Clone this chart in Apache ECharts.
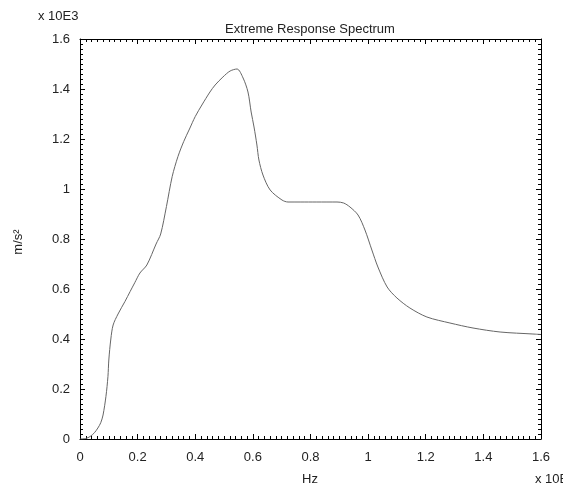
<!DOCTYPE html>
<html>
<head>
<meta charset="utf-8">
<script src="https://cdn.jsdelivr.net/npm/echarts@6/dist/echarts.min.js"></script>
<style>html,body{margin:0;padding:0;background:#fff}#c{width:563px;height:488px}</style>
</head>
<body>
<div id="c"></div>
<script>
var freq = [0, 0.02, 0.035, 0.05, 0.062, 0.072, 0.08, 0.09, 0.097, 0.10, 0.107, 0.115, 0.132, 0.156, 0.174, 0.19, 0.208, 0.232, 0.264, 0.28, 0.30, 0.32, 0.34, 0.36, 0.38, 0.40, 0.423, 0.451, 0.469, 0.496, 0.521, 0.545, 0.566, 0.583, 0.594, 0.604, 0.614, 0.621, 0.635, 0.660, 0.701, 0.722, 0.764, 0.822, 0.892, 0.915, 0.937, 0.965, 0.989, 1.013, 1.034, 1.066, 1.10, 1.145, 1.204, 1.284, 1.364, 1.458, 1.572, 1.6];
var accel = [0, 0.002, 0.01, 0.025, 0.044, 0.065, 0.096, 0.17, 0.25, 0.316, 0.40, 0.456, 0.50, 0.55, 0.59, 0.625, 0.664, 0.696, 0.78, 0.82, 0.93, 1.05, 1.13, 1.19, 1.24, 1.29, 1.336, 1.388, 1.416, 1.448, 1.472, 1.48, 1.444, 1.388, 1.308, 1.248, 1.176, 1.116, 1.056, 0.996, 0.956, 0.948, 0.948, 0.948, 0.948, 0.944, 0.928, 0.896, 0.836, 0.756, 0.688, 0.608, 0.564, 0.524, 0.488, 0.464, 0.444, 0.428, 0.42, 0.418];
var xTicks = ['0', '0.2', '0.4', '0.6', '0.8', '1', '1.2', '1.4', '1.6'];
var yTicks = ['0', '0.2', '0.4', '0.6', '0.8', '1', '1.2', '1.4', '1.6'];

var pts = freq.map(function (f, i) { return [f, accel[i]]; });
var FONT = '"Liberation Sans Narrow", "Liberation Sans", Arial, sans-serif';
var chart = echarts.init(document.getElementById('c'), null, {renderer: 'canvas'});

function axisCommon(showLabel, pos, labels, margin) {
  return {
    type: 'value', min: 0, max: 1.6, interval: 0.2, position: pos,
    axisLine: {show: true, onZero: false, lineStyle: {color: '#000', width: 1}},
    axisTick: {show: true, inside: true, length: 5, lineStyle: {color: '#000'}},
    minorTick: {show: true, splitNumber: 10, length: 3, lineStyle: {color: '#000'}},
    splitLine: {show: false},
    axisLabel: {
      show: showLabel, color: '#222', fontFamily: FONT, fontSize: 13, margin: margin,
      formatter: function (v) { var i = Math.round(v / 0.2); return labels[i]; }
    }
  };
}
var xb = axisCommon(true, 'bottom', xTicks, 12);
var xt = axisCommon(false, 'top', xTicks, 8);
var yl = axisCommon(true, 'left', yTicks, 10);
var yr = axisCommon(false, 'right', yTicks, 8);

chart.setOption({
  backgroundColor: '#fff',
  animation: false,
  grid: {left: 80, right: 22, top: 39, bottom: 49, containLabel: false},
  title: {
    text: 'Extreme Response Spectrum', left: 305, top: 18, textAlign: 'center',
    textStyle: {fontFamily: FONT, fontSize: 13, fontWeight: 'normal', color: '#222'}
  },
  xAxis: [xb, xt],
  yAxis: [yl, yr],
  graphic: [
    {type: 'text', left: 38, top: 10, style: {text: 'x 10E3', font: '13px ' + FONT, fill: '#222'}},
    {type: 'text', left: 302, top: 473, style: {text: 'Hz', font: '13px ' + FONT, fill: '#222'}},
    {type: 'text', left: 535, top: 473, style: {text: 'x 10E', font: '13px ' + FONT, fill: '#222'}},
    {type: 'text', x: 18, y: 242, rotation: Math.PI / 2, style: {text: 'm/s²', font: '13px ' + FONT, fill: '#222', align: 'center', verticalAlign: 'middle'}}
  ],
  series: [{
    type: 'line', data: pts, xAxisIndex: 0, yAxisIndex: 0,
    showSymbol: false, smooth: 0.3,
    lineStyle: {color: '#666', width: 1}
  }]
});
</script>
</body>
</html>
